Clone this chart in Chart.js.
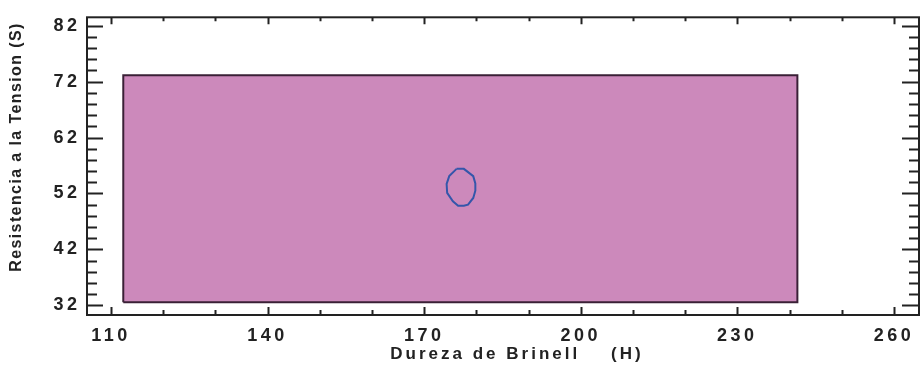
<!DOCTYPE html>
<html>
<head>
<meta charset="utf-8">
<script src="https://cdn.jsdelivr.net/npm/chart.js@4/dist/chart.umd.min.js"></script>
<style>
  html, body { margin: 0; padding: 0; background: #fff; }
  #wrap { width: 922px; height: 365px; }
</style>
</head>
<body>
<div id="wrap"><canvas id="grafico"></canvas></div>
<script>
// region de la muestra (rectangulo) y contorno de la elipse
var rectX = [112.35, 241.5, 241.5, 112.35, 112.35];
var rectY = [32.57, 32.57, 73.13, 73.13, 32.57];
var elipX = [176.2, 177.6, 179.4, 179.8, 179.8, 179.4, 178.4, 177.6, 176.5, 175.5, 174.4, 174.3, 174.8, 176.2];
var elipY = [56.4, 56.4, 55.1, 53.8, 52.5, 51.2, 50.0, 49.8, 49.8, 50.6, 52.1, 53.7, 55.1, 56.4];

var xTicks = [110, 140, 170, 200, 230, 260];
var yTicks = [32, 42, 52, 62, 72, 82];
var xMenor = 10, yMenor = 2;
var xTitulo = 'Dureza de Brinell    (H)';
var yTitulo = 'Resistencia a la Tension (S)';

function puntos(xs, ys) {
  var p = [];
  for (var i in xs) p.push({x: xs[i], y: ys[i]});
  return p;
}

var fuente = 'Liberation Sans, Arial, sans-serif';

// marco con marcas hacia adentro en los cuatro lados + titulos
var marco = {
  id: 'marco',
  beforeDraw: function(chart) {
    chart.ctx.letterSpacing = '3.5px';
  },
  afterDraw: function(chart) {
    var ctx = chart.ctx, a = chart.chartArea;
    var sx = chart.scales.x, sy = chart.scales.y;
    ctx.save();
    ctx.letterSpacing = '0px';
    ctx.strokeStyle = '#222';
    ctx.lineWidth = 2;
    ctx.strokeRect(a.left, a.top, a.right - a.left, a.bottom - a.top);

    var v, px, mayor;
    ctx.beginPath();
    for (v = Math.ceil(sx.min / xMenor) * xMenor; v <= sx.max; v += xMenor) {
      px = Math.round(sx.getPixelForValue(v)) + 0.5;
      mayor = xTicks.indexOf(v) >= 0;
      ctx.moveTo(px, a.bottom); ctx.lineTo(px, a.bottom - (mayor ? 8 : 5));
      ctx.moveTo(px, a.top); ctx.lineTo(px, a.top + (mayor ? 7 : 4));
    }
    for (v = Math.ceil(sy.min / yMenor) * yMenor; v <= sy.max; v += yMenor) {
      px = Math.round(sy.getPixelForValue(v)) + 0.5;
      mayor = yTicks.indexOf(v) >= 0;
      ctx.moveTo(a.left, px); ctx.lineTo(a.left + (mayor ? 16 : 10), px);
      ctx.moveTo(a.right, px); ctx.lineTo(a.right - (mayor ? 17 : 10), px);
    }
    ctx.stroke();

    ctx.fillStyle = '#222';
    ctx.textBaseline = 'middle';
    ctx.textAlign = 'center';
    ctx.font = 'bold 17px ' + fuente;
    ctx.letterSpacing = '3px';
    ctx.fillText(xTitulo, 517, 354);
    ctx.font = 'bold 16px ' + fuente;
    ctx.letterSpacing = '1.4px';
    ctx.translate(17, 147);
    ctx.rotate(-Math.PI / 2);
    ctx.fillText(yTitulo, 0, 0);
    ctx.restore();
  }
};

var ctx = document.getElementById('grafico');
var grafico = new Chart(ctx, {
  type: 'scatter',
  data: {
    datasets: [
      {
        label: 'elipse',
        data: puntos(elipX, elipY),
        showLine: true,
        fill: false,
        borderColor: '#3456aa',
        borderWidth: 2,
        pointRadius: 0,
        tension: 0
      },
      {
        label: 'region',
        data: puntos(rectX, rectY),
        showLine: true,
        fill: 'shape',
        backgroundColor: '#cc89bb',
        borderColor: '#3a2036',
        borderWidth: 2,
        pointRadius: 0,
        tension: 0
      }
    ]
  },
  options: {
    responsive: true,
    maintainAspectRatio: false,
    animation: false,
    layout: { padding: { left: 0, top: 7, right: 3, bottom: 0 } },
    plugins: { legend: { display: false }, tooltip: { enabled: false } },
    scales: {
      x: {
        type: 'linear',
        min: 105.4,
        max: 264.8,
        afterBuildTicks: function(s) { s.ticks = xTicks.map(function(v) { return {value: v}; }); },
        afterFit: function(s) { s.height = 50; },
        grid: { display: false, drawTicks: false },
        border: { display: false },
        ticks: { color: '#222', padding: 10, maxRotation: 0, autoSkip: false,
                 font: { family: fuente, size: 18, weight: 'bold' } }
      },
      y: {
        type: 'linear',
        min: 30.27,
        max: 83.5,
        afterBuildTicks: function(s) { s.ticks = yTicks.map(function(v) { return {value: v}; }); },
        afterFit: function(s) { s.width = 87; },
        grid: { display: false, drawTicks: false },
        border: { display: false },
        ticks: { color: '#222', padding: 6.5, autoSkip: false,
                 font: { family: fuente, size: 18, weight: 'bold' } }
      }
    }
  },
  plugins: [marco]
});
</script>
</body>
</html>
